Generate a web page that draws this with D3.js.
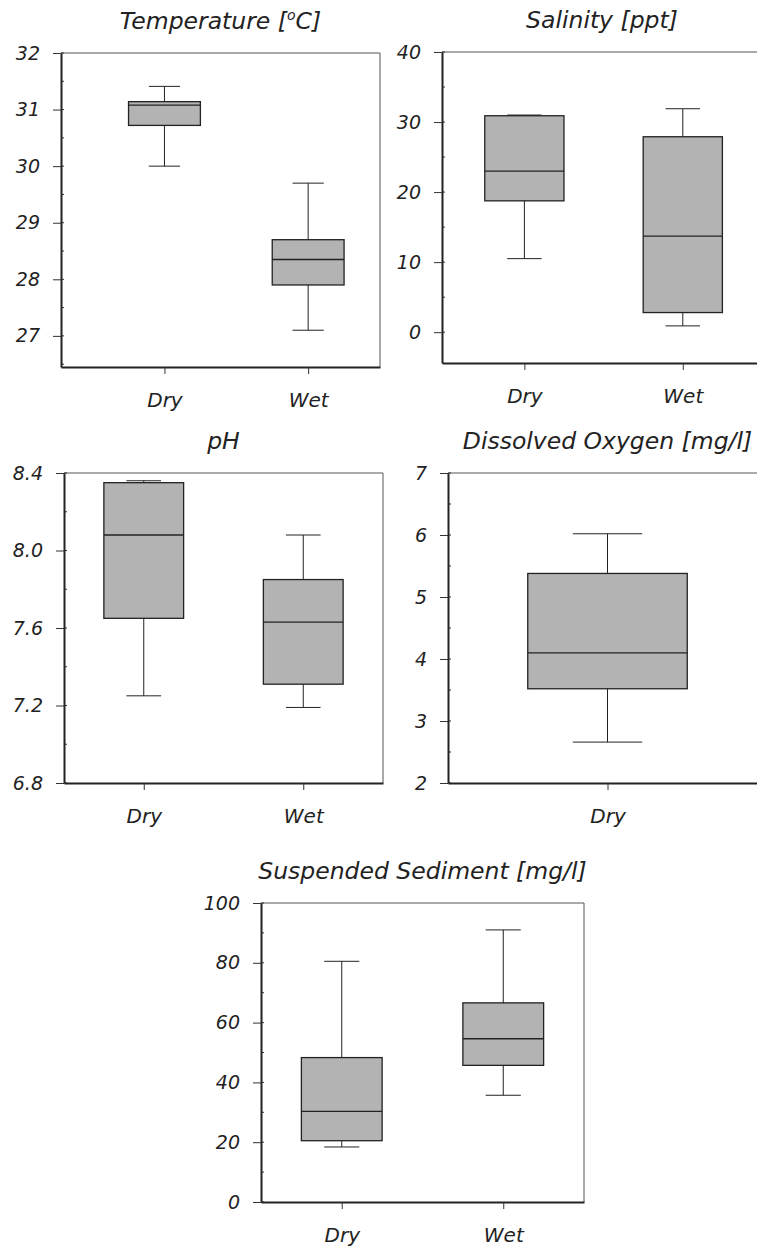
<!DOCTYPE html>
<html lang="en">
<head>
  <meta charset="UTF-8">
  <title>Water quality box plots</title>
  <script src="https://d3js.org/d3.v7.min.js"></script>
  <style>
    body { margin: 0; background: #fff; }
    text { font-family: "DejaVu Sans", sans-serif; font-style: italic; fill: #222; }
    .tick text { font-size: 19px; }
    .xaxis .tick text { font-size: 20px; }
    .title { font-size: 23.5px; }
  </style>
</head>
<body>
  <script>
    // categories
    var seasons = ["Dry", "Wet"]

    // box stats: [min, q1, median, q3, max]
    var tempStats = [[30.00, 30.72, 31.08, 31.14, 31.41], [27.10, 27.90, 28.35, 28.70, 29.70]]
    var salStats = [[10.5, 18.75, 23.0, 30.9, 31.0], [0.9, 2.8, 13.7, 27.9, 31.9]]
    var phStats = [[7.25, 7.65, 8.08, 8.35, 8.36], [7.19, 7.31, 7.63, 7.85, 8.08]]
    var doStats = [[2.66, 3.52, 4.10, 5.38, 6.02]]
    var ssStats = [[18.4, 20.5, 30.3, 48.3, 80.5], [35.7, 45.7, 54.6, 66.6, 91.0]]

    // tick labels
    var tempTicks = [27, 28, 29, 30, 31, 32]
    var salTicks = [0, 10, 20, 30, 40]
    var phTicks = [6.8, 7.2, 7.6, 8.0, 8.4]
    var doTicks = [2, 3, 4, 5, 6, 7]
    var ssTicks = [0, 20, 40, 60, 80, 100]

    var panels = [
      { title: ["Temperature [", "o", "C]"], stats: tempStats, ticks: tempTicks, fmt: d3.format("d"),
        y: [26.45, 32], x: [0.28, 2.5], minor: 0.5, left: 61, right: 380, top: 53, bottom: 367 },
      { title: ["Salinity [ppt]"], stats: salStats, ticks: salTicks, fmt: d3.format("d"),
        y: [-4.4, 40], x: [0.48, 2.5], minor: 5, left: 442, right: 762, top: 52, bottom: 363 },
      { title: ["pH"], stats: phStats, ticks: phTicks, fmt: d3.format(".1f"),
        y: [6.8, 8.4], x: [0.5, 2.5], minor: 0.2, left: 64, right: 383, top: 473, bottom: 783 },
      { title: ["Dissolved Oxygen [mg/l]"], stats: doStats, ticks: doTicks, fmt: d3.format("d"),
        y: [2, 7], x: [0.5, 1.5], minor: 0.5, left: 448, right: 767, top: 473, bottom: 783 },
      { title: ["Suspended Sediment [mg/l]"], stats: ssStats, ticks: ssTicks, fmt: d3.format("d"),
        y: [0, 100], x: [0.5, 2.5], minor: 10, left: 261, right: 584, top: 903, bottom: 1202 }
    ]

    var svg = d3.select("body").append("svg")
      .attr("width", 757)
      .attr("height", 1251)

    panels.forEach(function (p) {
      var x = d3.scaleLinear().domain(p.x).range([p.left, p.right])
      var y = d3.scaleLinear().domain(p.y).range([p.bottom, p.top])
      var g = svg.append("g")

      // frame: top + right thin
      g.append("path")
        .attr("d", "M" + p.left + "," + p.top + "H" + p.right + "V" + p.bottom)
        .attr("fill", "none")
        .attr("stroke", "#555")
        .attr("stroke-width", 1)

      // minor ticks
      var minors = d3.range(Math.ceil(p.y[0] / p.minor) * p.minor, p.y[1] + 1e-9, p.minor)
      g.append("g").selectAll("line")
        .data(minors)
        .enter().append("line")
        .attr("x1", p.left).attr("x2", p.left + 3)
        .attr("y1", function (d) { return y(d) }).attr("y2", function (d) { return y(d) })
        .attr("stroke", "#333")

      // y axis
      var ya = g.append("g")
        .attr("transform", "translate(" + p.left + ",0)")
        .call(d3.axisLeft(y).tickValues(p.ticks).tickFormat(p.fmt).tickSize(8).tickSizeOuter(0).tickPadding(13))
      ya.select(".domain").attr("stroke", "#222").attr("stroke-width", 2)
      ya.selectAll(".tick line").attr("stroke", "#333")
      ya.selectAll(".tick text").attr("fill", "#222")

      // x axis
      var xa = g.append("g")
        .attr("class", "xaxis")
        .attr("transform", "translate(0," + p.bottom + ")")
        .call(d3.axisBottom(x).tickValues(d3.range(1, p.stats.length + 1))
          .tickFormat(function (d) { return seasons[d - 1] })
          .tickSize(7).tickSizeOuter(0).tickPadding(19))
      xa.select(".domain").attr("stroke", "#222").attr("stroke-width", 2)
      xa.selectAll(".tick line").attr("stroke", "#333")
      xa.selectAll(".tick text").attr("fill", "#222")

      // title
      var t = g.append("text")
        .attr("class", "title")
        .attr("x", (p.left + p.right) / 2)
        .attr("y", p.top - 24)
        .attr("text-anchor", "middle")
      if (p.title.length === 3) {
        t.append("tspan").text(p.title[0])
        t.append("tspan").attr("font-size", "14px").attr("dy", "-9").text(p.title[1])
        t.append("tspan").attr("dy", "9").text(p.title[2])
      } else {
        t.text(p.title[0])
      }

      // boxes
      var bw = 0.25
      var box = g.selectAll(".box")
        .data(p.stats)
        .enter().append("g")
        .attr("class", "box")

      box.append("line")
        .attr("x1", function (d, i) { return x(i + 1) })
        .attr("x2", function (d, i) { return x(i + 1) })
        .attr("y1", function (d) { return y(d[0]) })
        .attr("y2", function (d) { return y(d[4]) })
        .attr("stroke", "#222")

      box.append("line")
        .attr("x1", function (d, i) { return x(i + 1 - bw / 2.3) })
        .attr("x2", function (d, i) { return x(i + 1 + bw / 2.3) })
        .attr("y1", function (d) { return y(d[0]) })
        .attr("y2", function (d) { return y(d[0]) })
        .attr("stroke", "#222")

      box.append("line")
        .attr("x1", function (d, i) { return x(i + 1 - bw / 2.3) })
        .attr("x2", function (d, i) { return x(i + 1 + bw / 2.3) })
        .attr("y1", function (d) { return y(d[4]) })
        .attr("y2", function (d) { return y(d[4]) })
        .attr("stroke", "#222")

      box.append("rect")
        .attr("x", function (d, i) { return x(i + 1 - bw) })
        .attr("width", function (d, i) { return x(i + 1 + bw) - x(i + 1 - bw) })
        .attr("y", function (d) { return y(d[3]) })
        .attr("height", function (d) { return y(d[1]) - y(d[3]) })
        .attr("fill", "#b3b3b3")
        .attr("stroke", "#222")
        .attr("stroke-width", 1.3)

      box.append("line")
        .attr("x1", function (d, i) { return x(i + 1 - bw) })
        .attr("x2", function (d, i) { return x(i + 1 + bw) })
        .attr("y1", function (d) { return y(d[2]) })
        .attr("y2", function (d) { return y(d[2]) })
        .attr("stroke", "#222")
        .attr("stroke-width", 1.3)
    })
  </script>
</body>
</html>
